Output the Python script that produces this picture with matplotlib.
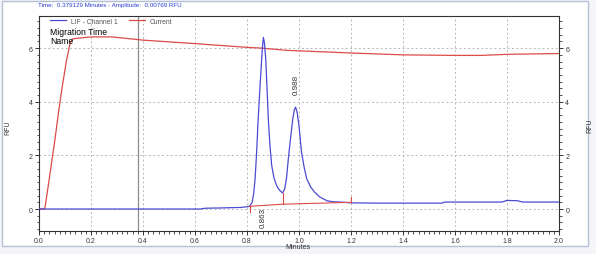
import matplotlib
matplotlib.use('Agg')
import matplotlib.pyplot as plt
from matplotlib.ticker import MultipleLocator
from matplotlib.patches import Rectangle

# LIF - Channel 1 trace (minutes, RFU)
lif_t = [0.0, 0.2, 0.4, 0.62, 0.64, 0.7, 0.78, 0.81, 0.82, 0.826, 0.831, 0.837, 0.843,
         0.849, 0.854, 0.859, 0.863, 0.867, 0.872, 0.877, 0.882, 0.888, 0.895, 0.904,
         0.914, 0.925, 0.937, 0.945, 0.952, 0.959, 0.967, 0.976, 0.982, 0.987, 0.993,
         1.0, 1.005, 1.01, 1.02, 1.03, 1.045, 1.06, 1.08, 1.107, 1.13, 1.158, 1.2,
         1.3, 1.55, 1.56, 1.78, 1.8, 1.84, 1.86, 2.0]
lif_v = [0.0, 0.0, 0.0, 0.0, 0.03, 0.04, 0.06, 0.1, 0.25, 0.6, 1.12, 2.1, 3.36,
         4.4, 5.2, 6.0, 6.4, 6.2, 5.6, 4.5, 3.36, 2.4, 1.62, 1.15,
         0.87, 0.7, 0.6, 0.75, 1.15, 1.87, 2.6, 3.36, 3.7, 3.8, 3.6,
         3.1, 2.6, 2.1, 1.55, 1.12, 0.82, 0.63, 0.45, 0.31, 0.27, 0.26, 0.23,
         0.22, 0.22, 0.26, 0.26, 0.32, 0.31, 0.26, 0.26]

# Current trace
cur_t = [0.0, 0.022, 0.03, 0.045, 0.06, 0.075, 0.09, 0.105, 0.12, 0.13, 0.2, 0.28,
         0.4, 0.6, 0.8, 0.86, 0.95, 1.0, 1.2, 1.4, 1.6, 1.7, 1.8, 2.0]
cur_v = [0.0, 0.0, 0.5, 1.5, 2.5, 3.6, 4.6, 5.5, 6.2, 6.35, 6.42, 6.42,
         6.3, 6.17, 6.03, 6.0, 5.92, 5.9, 5.82, 5.75, 5.73, 5.73, 5.77, 5.8]

# integration baseline and peak marks
base_t = [0.81, 0.937, 1.2]
base_v = [0.1, 0.18, 0.25]
peak_t = [0.863, 0.988]
peak_lbl = ['0.863', '0.988']
peak_lbl_y = [-0.3, 4.65]
cursor_t = 0.379129

blue = '#4a4ad2'
red = '#dc4a4a'
sans = 'Liberation Sans'

fig = plt.figure(figsize=(5.96, 2.55), dpi=100)
fig.patch.set_facecolor('#f4f5f8')
fig.patches.append(Rectangle((0.004, 0.03), 0.982, 0.962, transform=fig.transFigure,
                             facecolor='white', edgecolor='#b4c0d4', lw=1.0, zorder=-1))

ax = fig.add_axes([39/596, 1-232/255, 520/596, 215/255])
ax.set_facecolor('white')
ax.set_xlim(0, 2.0)
ax.set_ylim(-0.82, 7.2)

ax.grid(True, color='#b8b8b8', linestyle=(0, (2, 2.5)), linewidth=0.7)
ax.set_axisbelow(True)

ax.axvline(cursor_t, color='#8c8c8c', lw=0.9, zorder=1)
l1, = ax.plot(lif_t, lif_v, color=blue, lw=0.9, zorder=3)
l2, = ax.plot(cur_t, cur_v, color=red, lw=0.9, zorder=2)

# baseline drawing
ax.plot(base_t, base_v, color=red, lw=0.8, zorder=4)
ax.plot([base_t[0], base_t[0]], [base_v[0], -0.12], color=red, lw=0.8, zorder=4)
ax.plot([base_t[1], base_t[1]], [base_v[1], 0.6], color=red, lw=0.8, zorder=4)
ax.plot([base_t[2], base_t[2]], [base_v[2], 0.45], color=red, lw=0.8, zorder=4)

for t, s, yy in zip(peak_t, peak_lbl, peak_lbl_y):
    ax.text(t, yy, s, rotation=90, ha='center', va='center', fontsize=5.8,
            family=sans, color='#333333')

ax.xaxis.set_major_locator(MultipleLocator(0.2))
ax.xaxis.set_minor_locator(MultipleLocator(0.02))
ax.yaxis.set_major_locator(MultipleLocator(2))
ax.yaxis.set_minor_locator(MultipleLocator(0.25))
ax.xaxis.set_major_formatter(lambda v, p: f'{v:.1f}')
ax.tick_params(which='major', length=3, width=0.7, labelsize=5, colors='#333333', pad=1.5)
ax.tick_params(which='minor', length=1.8, width=0.6, colors='#333333')
ax.tick_params(axis='y', right=True, labelright=True, which='both')
for lbl in ax.get_xticklabels() + ax.get_yticklabels():
    lbl.set_family(sans)
for sp in ax.spines.values():
    sp.set_linewidth(0.8)
    sp.set_color('#333333')

leg = ax.legend([l1, l2], ['LIF - Channel 1', 'Current'], ncol=2, frameon=False,
                loc='center left', bbox_to_anchor=(0.021, 0.975), borderpad=0,
                borderaxespad=0, handlelength=2.4, handletextpad=0.7,
                columnspacing=1.6, labelcolor='#555555',
                prop={'family': sans, 'size': 4.9})

ax.text(0.021, 0.93, 'Migration Time', transform=ax.transAxes, fontsize=6.2,
        family=sans, va='center', ha='left', color='black')
ax.text(0.021, 0.884, 'Name', transform=ax.transAxes, fontsize=6.2,
        family=sans, va='center', ha='left', color='black')

fig.text(38/596, 1-6/255, 'Time:  0.379129 Minutes - Amplitude:  0.00769 RFU',
         fontsize=4.5, family=sans, color='#2a3fd0', va='center', ha='left')
fig.text(8/596, 1-128/255, 'RFU', rotation=90, fontsize=5, family=sans,
         va='center', ha='center', color='#333333')
fig.text(590/596, 1-126/255, 'RFU', rotation=90, fontsize=5, family=sans,
         va='center', ha='center', color='#333333')
fig.text(298/596, 1-248/255, 'Minutes', fontsize=5, family=sans,
         va='center', ha='center', color='#333333')

fig.savefig('out.png', dpi=100, facecolor=fig.get_facecolor())
